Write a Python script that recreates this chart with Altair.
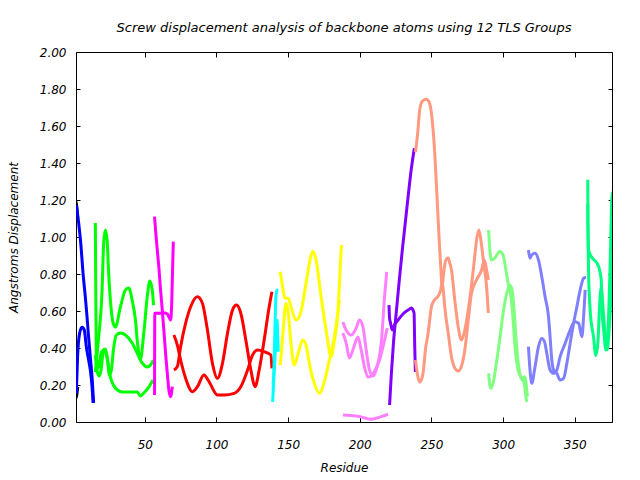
import altair as alt
import pandas as pd

TITLE = "Screw displacement analysis of backbone atoms using 12 TLS Groups"
X_TICKS = [50, 100, 150, 200, 250, 300, 350]
Y_TICKS = [0.0, 0.2, 0.4, 0.6, 0.8, 1.0, 1.2, 1.4, 1.6, 1.8, 2.0]

GROUPS = ["g01", "g02", "g03", "g04", "g05", "g06", "g07", "g08", "g09", "g10", "g11", "g12", "g13"]
COLORS = ["#000000", "#0000ff", "#00ff00", "#ff00ff", "#ff0000", "#00ffff", "#ffff00",
          "#ff80ff", "#8000ff", "#ff9980", "#80ff80", "#8080ff", "#00ff80"]

# group 1 (black)
k1_res = [2.0, 2.6, 3.2]
k1_val = [1.19, 1.16, 1.10]
k2_res = [2.0, 2.6, 3.2]
k2_val = [0.13, 0.15, 0.19]
# group 2 (blue)
b1_res = [2.2, 3.8, 5.5, 6.9, 8.5, 9.7, 10.8, 12.0, 13.2, 14.3]
b1_val = [1.17, 1.08, 0.95, 0.805, 0.676, 0.568, 0.459, 0.351, 0.243, 0.103]
b2_res = [2.2, 3.1, 4.5, 6.2, 7.8, 9.2, 10.8, 12.0, 13.2, 13.9]
b2_val = [0.155, 0.353, 0.479, 0.512, 0.497, 0.407, 0.335, 0.281, 0.191, 0.103]
# group 3 (green)
ga_res = [15.5, 15.8, 16.2, 17.6, 19.7, 21.8, 23.9, 26.0, 28.1, 30.9, 34.4, 40.0, 44.7, 47.0, 49.3, 52.8, 55.7]
ga_val = [1.076, 0.714, 0.351, 0.292, 0.378, 0.389, 0.335, 0.243, 0.200, 0.173, 0.162, 0.162, 0.162, 0.141, 0.157, 0.189, 0.227]
gb_res = [15.5, 17.6, 20.2, 21.3, 22.5, 23.7, 24.8, 26.0, 27.9, 29.5, 33.0, 36.5, 38.8, 41.2, 43.5, 45.0, 47.0, 49.3, 51.7, 53.5, 55.2, 56.1]
gb_val = [0.270, 0.443, 0.714, 0.968, 1.038, 0.984, 0.805, 0.659, 0.535, 0.514, 0.622, 0.714, 0.724, 0.659, 0.55, 0.42, 0.34, 0.48, 0.676, 0.762, 0.714, 0.632]
gc_res = [15.5, 16.9, 18.3, 19.7, 21.1, 22.5, 23.9, 25.3, 26.7, 28.1, 30.2, 33.0, 36.5, 41.2, 44.7, 48.2, 51.7, 54.0, 55.9]
gc_val = [0.362, 0.270, 0.249, 0.292, 0.389, 0.395, 0.346, 0.254, 0.281, 0.389, 0.470, 0.481, 0.470, 0.427, 0.373, 0.319, 0.297, 0.308, 0.335]
# group 4 (magenta)
m1_res = [56.8, 57.5, 58.7, 59.8, 61.0, 62.2, 63.3, 64.5, 65.7, 66.8, 68.0, 69.2]
m1_val = [1.11, 1.038, 0.930, 0.839, 0.714, 0.605, 0.497, 0.371, 0.263, 0.173, 0.137, 0.191]
m2_res = [56.8, 57.0, 58.2, 61.0, 63.3, 65.7, 66.8, 68.0, 68.7, 69.2, 69.9]
m2_val = [0.146, 0.588, 0.588, 0.588, 0.591, 0.584, 0.569, 0.551, 0.623, 0.768, 0.975]
# group 5 (red)
r1_res = [70.3, 72.7, 75.0, 78.5, 82.0, 86.7, 90.2, 93.7, 97.2, 100.7, 104.2, 107.7, 111.2, 114.0, 117.0, 120.5, 124.0, 127.0, 129.8, 133.3, 136.8, 138.7]
r1_val = [0.281, 0.299, 0.407, 0.534, 0.623, 0.677, 0.642, 0.497, 0.317, 0.236, 0.317, 0.479, 0.605, 0.632, 0.588, 0.443, 0.281, 0.191, 0.281, 0.443, 0.623, 0.704]
r2_res = [70.3, 72.7, 75.0, 78.5, 83.2, 86.7, 91.3, 94.8, 100.7, 105.3, 112.3, 117.0, 121.7, 125.2, 128.7, 133.3, 138.0, 138.7]
r2_val = [0.470, 0.416, 0.335, 0.236, 0.164, 0.191, 0.254, 0.218, 0.146, 0.146, 0.155, 0.191, 0.281, 0.362, 0.389, 0.380, 0.362, 0.290]
# group 6 (cyan)
c1_res = [139.2, 139.9, 140.3, 140.8, 141.5, 142.2, 143.1]
c1_val = [0.109, 0.227, 0.353, 0.497, 0.677, 0.714, 0.714]
c2_res = [139.5, 140.5, 141.5, 142.3, 142.8, 143.1]
c2_val = [0.20, 0.30, 0.45, 0.55, 0.45, 0.38]
# group 7 (yellow)
y1_res = [144.5, 146.2, 147.8, 150.1, 152.0, 155.5, 159.0, 162.5, 165.5, 167.2, 169.5, 173.0, 176.5, 180.0, 182.3, 184.7, 186.3, 187.2]
y1_val = [0.812, 0.731, 0.669, 0.669, 0.623, 0.551, 0.596, 0.750, 0.885, 0.921, 0.876, 0.677, 0.497, 0.353, 0.443, 0.588, 0.822, 0.957]
y2_res = [144.5, 146.2, 148.5, 150.1, 152.0, 154.3, 156.7, 160.2, 162.5, 164.8, 168.3, 171.8, 175.3, 178.8, 182.3, 184.7, 185.8]
y2_val = [0.308, 0.461, 0.642, 0.588, 0.425, 0.308, 0.362, 0.443, 0.416, 0.317, 0.209, 0.155, 0.218, 0.335, 0.461, 0.588, 0.659]
# group 8 (violet)
p1_res = [188.2, 190.5, 194.0, 197.5, 199.8, 202.2, 204.5, 206.8, 209.4, 212.2, 215.0, 217.3, 218.8]
p1_val = [0.541, 0.497, 0.470, 0.508, 0.551, 0.514, 0.389, 0.281, 0.249, 0.303, 0.427, 0.676, 0.811]
p2_res = [188.2, 190.5, 192.8, 195.2, 198.7, 201.0, 203.3, 205.7, 208.0, 210.8, 213.8, 217.3, 219.2]
p2_val = [0.481, 0.427, 0.346, 0.389, 0.459, 0.389, 0.297, 0.243, 0.249, 0.281, 0.335, 0.443, 0.508]
p3_res = [188.2, 194.0, 201.0, 208.0, 215.0, 219.7]
p3_val = [0.038, 0.035, 0.027, 0.015, 0.029, 0.042]
# group 9 (purple)
u1_res = [220.8, 222.0, 223.4, 225.5, 227.6, 229.7, 231.8, 233.9, 236.0, 238.1]
u1_val = [0.092, 0.254, 0.416, 0.595, 0.768, 0.930, 1.08, 1.23, 1.37, 1.48]
u2_res = [220.4, 220.8, 221.3, 222.7, 224.1, 226.7, 230.2, 233.7, 236.0, 237.9, 238.3, 238.8]
u2_val = [0.632, 0.56, 0.541, 0.497, 0.524, 0.551, 0.584, 0.605, 0.616, 0.589, 0.427, 0.270]
# group 10 (salmon)
s1_res = [238.9, 240.6, 241.8, 243.7, 246.5, 248.6, 250.0, 251.2, 252.3, 253.5, 254.7, 255.6, 256.5, 257.5, 258.4, 259.3, 260.5, 261.7, 262.8, 264.0, 266.3, 268.7, 271.0, 273.3, 275.7, 278.0, 280.1, 281.5, 283.1, 284.5, 286.2, 287.3, 288.5, 289.7]
s1_val = [1.459, 1.578, 1.686, 1.735, 1.745, 1.725, 1.670, 1.578, 1.454, 1.281, 1.092, 0.957, 0.838, 0.730, 0.795, 0.849, 0.881, 0.886, 0.859, 0.822, 0.659, 0.514, 0.443, 0.497, 0.605, 0.741, 0.886, 0.984, 1.038, 0.984, 0.876, 0.811, 0.730, 0.589]
s2_res = [238.9, 240.6, 241.8, 243.0, 244.2, 245.8, 247.7, 250.0, 252.1, 254.7, 256.5, 257.5, 258.4, 259.3, 261.7, 264.0, 266.3, 268.7, 271.0, 273.3, 275.7, 278.0, 281.5, 285.0, 286.9, 288.5, 289.7]
s2_val = [0.335, 0.243, 0.216, 0.227, 0.265, 0.389, 0.481, 0.622, 0.659, 0.681, 0.714, 0.757, 0.703, 0.622, 0.481, 0.351, 0.292, 0.276, 0.303, 0.389, 0.551, 0.697, 0.768, 0.822, 0.876, 0.822, 0.768]
# group 11 (light green)
l1_res = [289.9, 290.6, 291.8, 294.1, 297.6, 300.0, 301.6, 303.5, 305.8, 307.0, 308.1, 310.0, 312.3, 314.0, 315.1, 316.3, 317.0]
l1_val = [1.038, 0.948, 0.876, 0.885, 0.921, 0.903, 0.839, 0.750, 0.659, 0.551, 0.425, 0.299, 0.245, 0.227, 0.191, 0.119, 0.110]
l2_res = [289.9, 291.3, 293.0, 295.3, 297.6, 300.0, 302.3, 304.6, 306.3, 307.7, 309.3, 310.9, 313.3, 315.1, 316.3, 317.0]
l2_val = [0.263, 0.182, 0.209, 0.317, 0.443, 0.588, 0.686, 0.741, 0.714, 0.605, 0.425, 0.299, 0.227, 0.245, 0.191, 0.137]
# group 12 (slate blue)
t1_res = [317.7, 318.8, 320.0, 322.3, 324.7, 327.0, 329.3, 331.7, 332.8, 334.0, 335.2, 337.5, 339.8, 342.2, 344.5, 346.8, 349.2, 351.5, 353.8, 356.2, 357.8]
t1_val = [0.930, 0.885, 0.903, 0.912, 0.876, 0.785, 0.677, 0.569, 0.461, 0.335, 0.281, 0.263, 0.227, 0.236, 0.317, 0.425, 0.534, 0.623, 0.714, 0.777, 0.782]
t2_res = [317.7, 318.8, 320.0, 322.3, 324.7, 327.0, 328.9, 330.5, 332.8, 335.2, 337.5, 339.8, 343.3, 346.8, 349.9, 352.7, 355.0, 356.2, 357.3]
t2_val = [0.407, 0.281, 0.209, 0.299, 0.407, 0.452, 0.434, 0.371, 0.281, 0.263, 0.281, 0.353, 0.425, 0.497, 0.542, 0.534, 0.461, 0.569, 0.714]
# group 13 (spring green)
e1_res = [359.1, 359.2, 359.6, 361.9, 365.4, 366.7, 368.5, 369.0, 370.2, 371.8, 373.7, 374.8, 376.0, 377.2]
e1_val = [1.31, 1.06, 0.93, 0.89, 0.86, 0.839, 0.768, 0.605, 0.497, 0.389, 0.588, 0.876, 1.218, 1.254]
e2_res = [359.1, 359.6, 360.8, 363.1, 364.7, 366.2, 367.1, 368.5, 369.5, 370.9, 372.5, 373.7, 374.8, 376.5]
e2_val = [1.18, 0.82, 0.60, 0.46, 0.36, 0.43, 0.59, 0.73, 0.64, 0.50, 0.39, 0.46, 0.60, 0.89]

LINES = [
    ("g01", "a", k1_res, k1_val), ("g01", "b", k2_res, k2_val),
    ("g02", "a", b1_res, b1_val), ("g02", "b", b2_res, b2_val),
    ("g03", "a", ga_res, ga_val), ("g03", "b", gb_res, gb_val), ("g03", "c", gc_res, gc_val),
    ("g04", "a", m1_res, m1_val), ("g04", "b", m2_res, m2_val),
    ("g05", "a", r1_res, r1_val), ("g05", "b", r2_res, r2_val),
    ("g06", "a", c1_res, c1_val), ("g06", "b", c2_res, c2_val),
    ("g07", "a", y1_res, y1_val), ("g07", "b", y2_res, y2_val),
    ("g08", "a", p1_res, p1_val), ("g08", "b", p2_res, p2_val), ("g08", "c", p3_res, p3_val),
    ("g09", "a", u1_res, u1_val), ("g09", "b", u2_res, u2_val),
    ("g10", "a", s1_res, s1_val), ("g10", "b", s2_res, s2_val),
    ("g11", "a", l1_res, l1_val), ("g11", "b", l2_res, l2_val),
    ("g12", "a", t1_res, t1_val), ("g12", "b", t2_res, t2_val),
    ("g13", "a", e1_res, e1_val), ("g13", "b", e2_res, e2_val),
]

rows = []
for grp, sub, rs, vs in LINES:
    for i, (r, v) in enumerate(zip(rs, vs)):
        rows.append({"grp": grp, "line": grp + sub, "res": r, "val": v, "i": i})
df = pd.DataFrame(rows)

W, H = 536, 370
FONT = "DejaVu Sans"

chart = alt.Chart(df).mark_line(strokeWidth=3, interpolate="monotone", clip=True).encode(
    x=alt.X("res:Q",
            scale=alt.Scale(domain=[2, 376], nice=False, zero=False),
            axis=alt.Axis(values=X_TICKS, title="Residue", ticks=False, tickSize=0,
                          domain=False, labelPadding=17, titlePadding=12,
                          grid=True, gridColor="black", gridOpacity=1, gridWidth=1,
                          gridDash=[5, H - 10, 5, 1000])),
    y=alt.Y("val:Q",
            scale=alt.Scale(domain=[0, 2], nice=False, zero=False),
            axis=alt.Axis(values=Y_TICKS, format=".2f", title="Angstroms Displacement",
                          ticks=False, tickSize=0, domain=False, labelPadding=10,
                          titlePadding=19,
                          grid=True, gridColor="black", gridOpacity=1, gridWidth=1,
                          gridDash=[4, W - 8, 4, 1000])),
    color=alt.Color("grp:N", scale=alt.Scale(domain=GROUPS, range=COLORS), legend=None),
    detail="line:N",
    order="i:Q",
).properties(
    width=W, height=H,
    background="white",
    padding={"left": 76, "top": 52, "right": 28, "bottom": 58},
    autosize=alt.AutoSizeParams(type="none"),
    title=alt.TitleParams(TITLE, font=FONT, fontSize=13, fontStyle="italic",
                          fontWeight="normal", color="black", anchor="middle",
                          frame="group", offset=11),
).configure_view(
    stroke="black", strokeWidth=1
).configure_axis(
    labelFont=FONT, labelFontSize=12, labelFontStyle="italic", labelColor="black",
    titleFont=FONT, titleFontSize=12, titleFontStyle="italic", titleFontWeight="normal",
    titleColor="black"
)

chart.save("out.html", embed_options={"renderer": "svg", "actions": False})
